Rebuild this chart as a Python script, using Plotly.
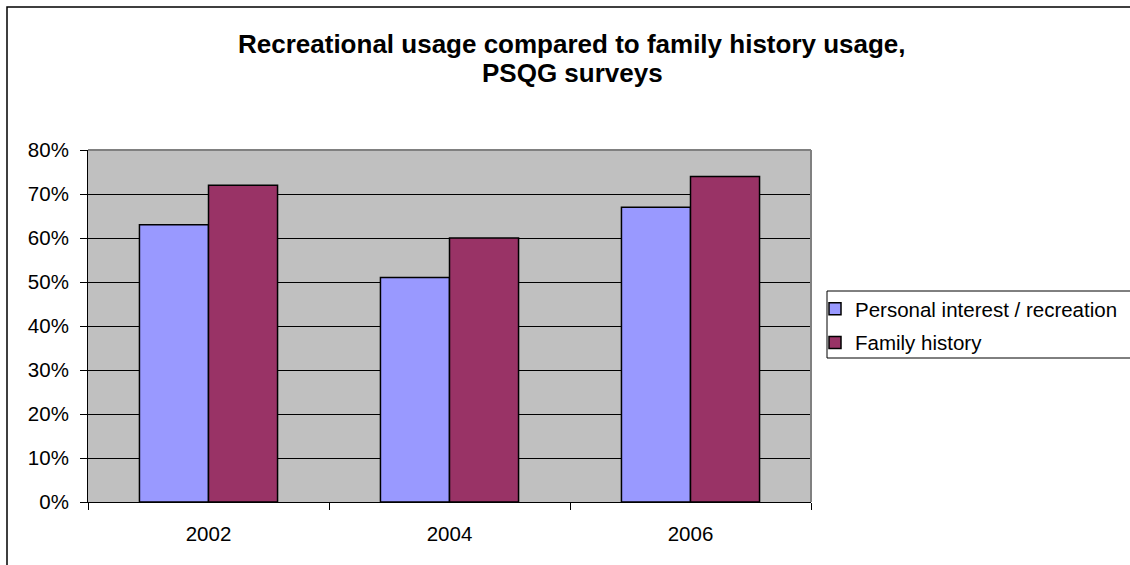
import plotly.graph_objects as go

years = ["2002", "2004", "2006"]
personal = [0.63, 0.51, 0.67]
family = [0.72, 0.60, 0.74]
series_names = ["Personal interest / recreation", "Family history"]
title_lines = ["Recreational usage compared to family history usage,", "PSQG surveys"]

FONT = "Liberation Sans, Arial, sans-serif"

fig = go.Figure()
fig.add_trace(go.Bar(x=years, y=personal, name=series_names[0], legendgroup="a",
                     marker=dict(color="#9999FF", line=dict(color="black", width=1.5))))
fig.add_trace(go.Bar(x=years, y=family, name=series_names[1], legendgroup="b",
                     marker=dict(color="#993366", line=dict(color="black", width=1.5))))

L, R, T, B = 88, 811, 150, 502
W, H = R - L, B - T

def px(x):
    return (x - L) / W

def py(y):
    return (B - y) / H

fig.update_layout(
    width=1130, height=565,
    margin=dict(l=L, r=1130 - R, t=T, b=565 - B, pad=0, autoexpand=False),
    paper_bgcolor="white", plot_bgcolor="#C0C0C0",
    font=dict(family=FONT, size=20, color="black"),
    barmode="group", bargap=0.427, bargroupgap=0,
    showlegend=True,
    legend=dict(x=px(815), y=py(289), xanchor="left", yanchor="top",
                bgcolor="rgba(0,0,0,0)", borderwidth=0,
                font=dict(size=20.5), traceorder="grouped", tracegroupgap=4),
    xaxis=dict(type="category", showline=True, linecolor="black", linewidth=1,
               ticks="outside", tickson="boundaries", ticklen=7, tickcolor="black",
               showgrid=False, tickfont=dict(size=20.5), ticklabelstandoff=13),
    yaxis=dict(range=[0, 0.8], dtick=0.1, tickformat=".0%", showline=True,
               linecolor="black", linewidth=1, ticks="outside", ticklen=7,
               tickcolor="black", showgrid=True, gridcolor="black", gridwidth=1,
               zeroline=False, tickfont=dict(size=20.5), ticklabelstandoff=7),
    shapes=[
        dict(type="line", xref="paper", yref="paper", x0=0, x1=1, y0=1, y1=1,
             line=dict(color="#808080", width=2)),
        dict(type="line", xref="paper", yref="paper", x0=1, x1=1, y0=0, y1=1,
             line=dict(color="#808080", width=2)),
        dict(type="rect", xref="paper", yref="paper",
             x0=px(7), x1=px(1140), y0=py(575), y1=py(7),
             line=dict(color="black", width=1.5), fillcolor="rgba(0,0,0,0)"),
        dict(type="rect", xref="paper", yref="paper",
             x0=px(827), x1=px(1140), y0=py(358), y1=py(291),
             line=dict(color="black", width=1), fillcolor="rgba(0,0,0,0)"),
    ],
    annotations=[
        dict(text="<b>%s</b>" % title_lines[0], xref="paper", yref="paper",
             x=px(572), y=py(44), xanchor="center", yanchor="middle",
             showarrow=False, font=dict(size=26, family=FONT)),
        dict(text="<b>%s</b>" % title_lines[1], xref="paper", yref="paper",
             x=px(572), y=py(73), xanchor="center", yanchor="middle",
             showarrow=False, font=dict(size=26, family=FONT)),
    ],
)

fig.write_html("out.html")
